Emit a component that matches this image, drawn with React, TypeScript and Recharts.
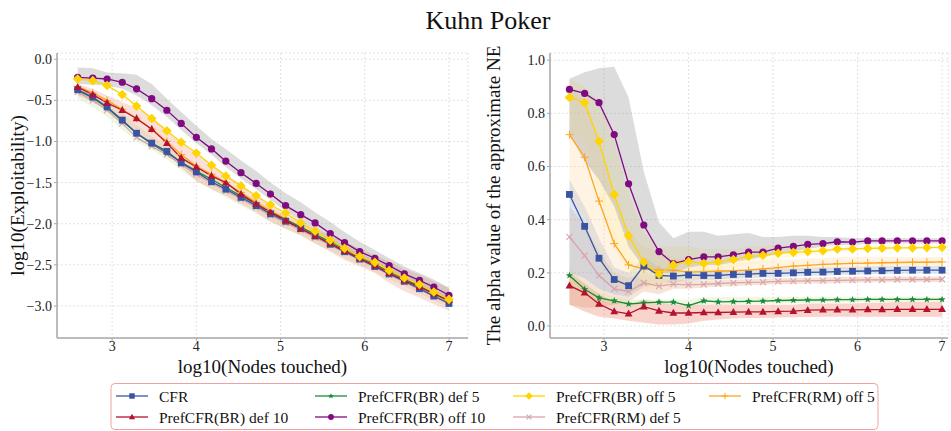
import React from 'react';
import { ComposedChart, Line, Area, XAxis, YAxis, CartesianGrid } from 'recharts';

// ---------- data ----------
const nodesLog = [2.59, 2.77, 2.94, 3.12, 3.29, 3.47, 3.65, 3.82, 4.0, 4.18, 4.35, 4.53, 4.71, 4.88, 5.06, 5.24, 5.41, 5.59, 5.76, 5.94, 6.12, 6.29, 6.47, 6.65, 6.82, 7.0];
const xTicks = [3, 4, 5, 6, 7];
const leftYTicks = [0, -0.5, -1, -1.5, -2, -2.5, -3];
const rightYTicks = [0, 0.2, 0.4, 0.6, 0.8, 1.0];

// left: log10(Exploitability)
const leftCFR = [-0.37, -0.46, -0.58, -0.74, -0.9, -1.02, -1.12, -1.26, -1.37, -1.49, -1.58, -1.68, -1.78, -1.88, -1.97, -2.06, -2.15, -2.25, -2.34, -2.43, -2.52, -2.61, -2.7, -2.79, -2.88, -2.97];
const leftDef10 = [-0.34, -0.43, -0.53, -0.62, -0.72, -0.85, -1.02, -1.2, -1.31, -1.42, -1.5, -1.64, -1.76, -1.86, -1.96, -2.06, -2.15, -2.24, -2.33, -2.42, -2.51, -2.6, -2.69, -2.77, -2.85, -2.93];
const leftDef5 = [-0.38, -0.47, -0.59, -0.75, -0.9, -1.03, -1.14, -1.25, -1.36, -1.46, -1.56, -1.66, -1.76, -1.86, -1.95, -2.04, -2.13, -2.22, -2.31, -2.4, -2.49, -2.58, -2.67, -2.76, -2.85, -2.94];
const leftOff10 = [-0.22, -0.23, -0.24, -0.28, -0.36, -0.48, -0.62, -0.78, -0.95, -1.09, -1.24, -1.38, -1.51, -1.64, -1.78, -1.89, -1.99, -2.12, -2.23, -2.34, -2.42, -2.51, -2.61, -2.69, -2.77, -2.87];
const leftOff5 = [-0.24, -0.26, -0.32, -0.43, -0.57, -0.72, -0.87, -1.01, -1.14, -1.29, -1.42, -1.54, -1.66, -1.77, -1.87, -1.99, -2.09, -2.2, -2.3, -2.4, -2.47, -2.57, -2.66, -2.74, -2.83, -2.92];
const leftRMDef5 = [-0.4, -0.5, -0.62, -0.78, -0.95, -1.06, -1.16, -1.28, -1.4, -1.5, -1.6, -1.7, -1.8, -1.9, -1.99, -2.08, -2.17, -2.26, -2.35, -2.44, -2.53, -2.62, -2.71, -2.8, -2.88, -2.96];
const leftRMOff5 = [-0.33, -0.41, -0.5, -0.61, -0.72, -0.85, -1.0, -1.16, -1.3, -1.4, -1.5, -1.62, -1.74, -1.84, -1.94, -2.04, -2.13, -2.22, -2.31, -2.4, -2.49, -2.58, -2.67, -2.76, -2.85, -2.95];

const leftGrayHi = [-0.1, -0.11, -0.16, -0.17, -0.19, -0.3, -0.48, -0.64, -0.81, -0.97, -1.09, -1.23, -1.36, -1.5, -1.63, -1.74, -1.86, -1.98, -2.1, -2.22, -2.32, -2.42, -2.52, -2.6, -2.68, -2.78];
const leftGrayLo = [-0.3, -0.31, -0.32, -0.36, -0.44, -0.56, -0.7, -0.86, -1.02, -1.16, -1.31, -1.45, -1.58, -1.71, -1.85, -1.97, -2.07, -2.2, -2.31, -2.42, -2.51, -2.61, -2.71, -2.79, -2.88, -2.98];
const leftSalmonHi = [-0.3, -0.36, -0.44, -0.52, -0.6, -0.7, -0.86, -1.02, -1.15, -1.28, -1.4, -1.53, -1.66, -1.78, -1.88, -1.97, -2.06, -2.14, -2.22, -2.3, -2.38, -2.46, -2.55, -2.62, -2.7, -2.78];
const leftSalmonLo = [-0.44, -0.52, -0.62, -0.76, -0.9, -1.02, -1.14, -1.32, -1.48, -1.58, -1.66, -1.76, -1.86, -1.98, -2.06, -2.14, -2.24, -2.34, -2.44, -2.52, -2.6, -2.72, -2.82, -2.9, -2.98, -3.06];
const leftGreenHi = [-0.34, -0.42, -0.52, -0.66, -0.8, -0.94, -1.05, -1.18, -1.3, -1.41, -1.51, -1.61, -1.71, -1.81, -1.91, -2.0, -2.09, -2.18, -2.27, -2.36, -2.45, -2.54, -2.62, -2.71, -2.8, -2.88];
const leftGreenLo = [-0.48, -0.58, -0.7, -0.86, -1.0, -1.1, -1.22, -1.35, -1.48, -1.58, -1.68, -1.78, -1.88, -1.97, -2.06, -2.15, -2.24, -2.33, -2.42, -2.5, -2.59, -2.68, -2.76, -2.85, -2.93, -3.02];

// right: alpha value of the approximate NE
const rightCFR = [0.495, 0.375, 0.255, 0.175, 0.152, 0.226, 0.19, 0.188, 0.192, 0.19, 0.19, 0.194, 0.195, 0.198, 0.198, 0.2, 0.202, 0.203, 0.205, 0.206, 0.207, 0.208, 0.209, 0.21, 0.21, 0.21];
const rightDef10 = [0.152, 0.125, 0.083, 0.055, 0.046, 0.073, 0.057, 0.049, 0.049, 0.051, 0.051, 0.052, 0.053, 0.053, 0.055, 0.056, 0.06, 0.061, 0.061, 0.061, 0.062, 0.062, 0.063, 0.063, 0.063, 0.063];
const rightDef5 = [0.19, 0.138, 0.106, 0.095, 0.083, 0.087, 0.09, 0.09, 0.077, 0.095, 0.091, 0.092, 0.093, 0.094, 0.096, 0.097, 0.098, 0.098, 0.099, 0.099, 0.1, 0.1, 0.1, 0.1, 0.1, 0.1];
const rightOff10 = [0.89, 0.875, 0.84, 0.72, 0.535, 0.38, 0.28, 0.235, 0.25, 0.26, 0.26, 0.268, 0.278, 0.278, 0.293, 0.3, 0.307, 0.31, 0.317, 0.316, 0.32, 0.32, 0.32, 0.32, 0.32, 0.32];
const rightOff5 = [0.86, 0.84, 0.695, 0.495, 0.34, 0.24, 0.195, 0.23, 0.243, 0.235, 0.242, 0.25, 0.262, 0.266, 0.274, 0.277, 0.28, 0.283, 0.29, 0.29, 0.292, 0.293, 0.294, 0.294, 0.295, 0.296];
const rightRMDef5 = [0.335, 0.265, 0.19, 0.14, 0.13, 0.162, 0.15, 0.158, 0.155, 0.157, 0.16, 0.162, 0.164, 0.165, 0.168, 0.169, 0.17, 0.171, 0.172, 0.173, 0.174, 0.174, 0.175, 0.175, 0.175, 0.176];
const rightRMOff5 = [0.72, 0.635, 0.47, 0.31, 0.23, 0.215, 0.21, 0.21, 0.203, 0.205, 0.206, 0.208, 0.21, 0.215, 0.22, 0.225, 0.228, 0.232, 0.234, 0.236, 0.237, 0.238, 0.239, 0.24, 0.24, 0.241];

const rightGrayHi = [0.93, 0.955, 0.97, 0.975, 0.86, 0.58, 0.39, 0.33, 0.355, 0.355, 0.34, 0.345, 0.35, 0.335, 0.335, 0.34, 0.34, 0.335, 0.335, 0.33, 0.33, 0.33, 0.33, 0.33, 0.33, 0.33];
const rightGrayLo = [0.72, 0.62, 0.55, 0.45, 0.3, 0.22, 0.2, 0.2, 0.22, 0.23, 0.23, 0.24, 0.25, 0.26, 0.27, 0.28, 0.29, 0.3, 0.305, 0.305, 0.31, 0.31, 0.31, 0.31, 0.31, 0.31];
const rightYellowHi = [0.93, 0.9, 0.85, 0.7, 0.5, 0.35, 0.3, 0.3, 0.3, 0.29, 0.29, 0.29, 0.3, 0.3, 0.3, 0.3, 0.3, 0.3, 0.3, 0.3, 0.3, 0.3, 0.3, 0.3, 0.3, 0.3];
const rightYellowLo = [0.72, 0.7, 0.5, 0.3, 0.2, 0.17, 0.15, 0.18, 0.2, 0.2, 0.21, 0.22, 0.23, 0.24, 0.25, 0.26, 0.265, 0.27, 0.28, 0.28, 0.285, 0.285, 0.29, 0.29, 0.29, 0.29];
const rightOrangeHi = [0.9, 0.85, 0.7, 0.5, 0.35, 0.3, 0.28, 0.26, 0.25, 0.24, 0.24, 0.24, 0.24, 0.245, 0.25, 0.25, 0.255, 0.255, 0.26, 0.26, 0.26, 0.26, 0.26, 0.26, 0.26, 0.26];
const rightOrangeLo = [0.5, 0.4, 0.25, 0.15, 0.12, 0.14, 0.15, 0.16, 0.17, 0.17, 0.175, 0.18, 0.185, 0.19, 0.2, 0.2, 0.2, 0.21, 0.21, 0.21, 0.215, 0.215, 0.22, 0.22, 0.22, 0.22];
const rightBlueHi = [0.55, 0.45, 0.33, 0.22, 0.2, 0.26, 0.22, 0.21, 0.21, 0.21, 0.21, 0.212, 0.213, 0.215, 0.216, 0.217, 0.219, 0.22, 0.222, 0.222, 0.224, 0.225, 0.226, 0.226, 0.226, 0.226];
const rightBlueLo = [0.2, 0.18, 0.14, 0.12, 0.11, 0.15, 0.16, 0.165, 0.17, 0.172, 0.174, 0.177, 0.18, 0.182, 0.184, 0.186, 0.188, 0.19, 0.192, 0.194, 0.195, 0.196, 0.197, 0.198, 0.198, 0.198];
const rightPinkHi = [0.45, 0.38, 0.28, 0.2, 0.18, 0.2, 0.18, 0.175, 0.17, 0.17, 0.172, 0.174, 0.176, 0.178, 0.18, 0.181, 0.182, 0.183, 0.184, 0.185, 0.185, 0.186, 0.186, 0.186, 0.186, 0.186];
const rightPinkLo = [0.08, 0.07, 0.07, 0.08, 0.09, 0.13, 0.12, 0.14, 0.14, 0.145, 0.148, 0.15, 0.153, 0.155, 0.157, 0.158, 0.16, 0.16, 0.162, 0.163, 0.164, 0.165, 0.165, 0.166, 0.166, 0.166];
const rightRedHi = [0.2, 0.16, 0.12, 0.09, 0.08, 0.1, 0.09, 0.08, 0.08, 0.08, 0.08, 0.08, 0.08, 0.08, 0.08, 0.08, 0.085, 0.085, 0.085, 0.085, 0.088, 0.088, 0.09, 0.09, 0.09, 0.09];
const rightRedLo = [0.08, 0.055, 0.035, 0.028, 0.02, 0.012, 0.006, 0.006, 0.01, 0.02, 0.025, 0.028, 0.03, 0.03, 0.032, 0.033, 0.034, 0.035, 0.035, 0.035, 0.035, 0.035, 0.035, 0.035, 0.035, 0.035];
const rightGreenHi = [0.22, 0.16, 0.125, 0.11, 0.1, 0.1, 0.1, 0.1, 0.1, 0.11, 0.11, 0.11, 0.11, 0.11, 0.11, 0.11, 0.11, 0.11, 0.11, 0.11, 0.11, 0.11, 0.11, 0.11, 0.11, 0.11];
const rightGreenLo = [0.16, 0.12, 0.09, 0.08, 0.07, 0.075, 0.08, 0.08, 0.065, 0.08, 0.08, 0.08, 0.082, 0.084, 0.085, 0.086, 0.087, 0.088, 0.089, 0.09, 0.09, 0.09, 0.09, 0.09, 0.09, 0.09];

const seriesNames = ['CFR', 'PrefCFR(BR) def 10', 'PrefCFR(BR) def 5', 'PrefCFR(BR) off 10', 'PrefCFR(BR) off 5', 'PrefCFR(RM) def 5', 'PrefCFR(RM) off 5'];

// ---------- styles ----------
const FONT = '"Liberation Serif", "Times New Roman", serif';
type Shape = 'square' | 'triangle' | 'star' | 'circle' | 'diamond' | 'x' | 'plus';
const STYLES: { key: string; color: string; shape: Shape }[] = [
  { key: 'cfr', color: '#3a54a4', shape: 'square' },
  { key: 'def10', color: '#b4122f', shape: 'triangle' },
  { key: 'def5', color: '#1b8a3b', shape: 'star' },
  { key: 'off10', color: '#800a80', shape: 'circle' },
  { key: 'off5', color: '#ffd400', shape: 'diamond' },
  { key: 'rmdef5', color: '#d9a3aa', shape: 'x' },
  { key: 'rmoff5', color: '#ffa51c', shape: 'plus' },
];
// drawing order (last on top)
const drawOrder = [5, 6, 2, 0, 1, 3, 4];

const leftData = nodesLog.map((x, i) => ({
  x,
  cfr: leftCFR[i], def10: leftDef10[i], def5: leftDef5[i], off10: leftOff10[i], off5: leftOff5[i], rmdef5: leftRMDef5[i], rmoff5: leftRMOff5[i],
  bGray: [leftGrayLo[i], leftGrayHi[i]],
  bSalmon: [leftSalmonLo[i], leftSalmonHi[i]],
  bGreen: [leftGreenLo[i], leftGreenHi[i]],
}));

const rightData = nodesLog.map((x, i) => ({
  x,
  cfr: rightCFR[i], def10: rightDef10[i], def5: rightDef5[i], off10: rightOff10[i], off5: rightOff5[i], rmdef5: rightRMDef5[i], rmoff5: rightRMOff5[i],
  bGray: [rightGrayLo[i], rightGrayHi[i]],
  bYellow: [rightYellowLo[i], rightYellowHi[i]],
  bOrange: [rightOrangeLo[i], rightOrangeHi[i]],
  bBlue: [rightBlueLo[i], rightBlueHi[i]],
  bPink: [rightPinkLo[i], rightPinkHi[i]],
  bRed: [rightRedLo[i], rightRedHi[i]],
  bGreen: [rightGreenLo[i], rightGreenHi[i]],
}));

function Marker({ shape, cx, cy, color, scale = 1 }: { shape: Shape; cx: number; cy: number; color: string; scale?: number }) {
  const s = scale;
  switch (shape) {
    case 'square':
      return <rect x={cx - 3.4 * s} y={cy - 3.4 * s} width={6.8 * s} height={6.8 * s} fill={color} />;
    case 'circle':
      return <circle cx={cx} cy={cy} r={3.6 * s} fill={color} />;
    case 'diamond':
      return <polygon points={`${cx},${cy - 4.8 * s} ${cx + 4.8 * s},${cy} ${cx},${cy + 4.8 * s} ${cx - 4.8 * s},${cy}`} fill={color} />;
    case 'triangle':
      return <polygon points={`${cx},${cy - 4.2 * s} ${cx + 3.9 * s},${cy + 2.8 * s} ${cx - 3.9 * s},${cy + 2.8 * s}`} fill={color} />;
    case 'star': {
      const pts: string[] = [];
      for (let k = 0; k < 10; k++) {
        const r = (k % 2 === 0 ? 3.8 : 1.6) * s;
        const a = -Math.PI / 2 + (k * Math.PI) / 5;
        pts.push(`${cx + r * Math.cos(a)},${cy + r * Math.sin(a)}`);
      }
      return <polygon points={pts.join(' ')} fill={color} />;
    }
    case 'x':
      return (
        <g stroke={color} strokeWidth={1.1}>
          <line x1={cx - 3 * s} y1={cy - 3 * s} x2={cx + 3 * s} y2={cy + 3 * s} />
          <line x1={cx - 3 * s} y1={cy + 3 * s} x2={cx + 3 * s} y2={cy - 3 * s} />
        </g>
      );
    case 'plus':
      return (
        <g stroke={color} strokeWidth={1}>
          <line x1={cx - 4 * s} y1={cy} x2={cx + 4 * s} y2={cy} />
          <line x1={cx} y1={cy - 4 * s} x2={cx} y2={cy + 4 * s} />
        </g>
      );
  }
  return null;
}

const makeDot = (shape: Shape, color: string, id: string) => (p: any) => {
  if (p == null || p.cx == null || p.cy == null || isNaN(p.cx) || isNaN(p.cy)) return <g key={`${id}-${p?.index}`} />;
  return (
    <g key={`${id}-${p.index}`}>
      <Marker shape={shape} cx={p.cx} cy={p.cy} color={color} />
    </g>
  );
};

const fmtLeft = (v: number) => (v < 0 ? '\u2212' : '') + Math.abs(v).toFixed(1);
const fmtRight = (v: number) => v.toFixed(1);

const tickStyle = { fontFamily: FONT, fontSize: 14, fill: '#222' };
const FRAME = '#a8a8a8';

const YLabel = (text: string, x: number) => (props: any) => {
  const vb = props.viewBox || { y: 53, height: 285 };
  const cy = vb.y + vb.height / 2;
  return (
    <text x={x} y={cy} transform={`rotate(-90, ${x}, ${cy})`} textAnchor="middle" dominantBaseline="central" fontFamily={FONT} fontSize={19} fill="#111">
      {text}
    </text>
  );
};

const XLabel = (text: string, y: number) => (props: any) => {
  const vb = props.viewBox || { x: 57, width: 411 };
  const cx = vb.x + vb.width / 2;
  return (
    <text x={cx} y={y} textAnchor="middle" dominantBaseline="central" fontFamily={FONT} fontSize={19} fill="#111">
      {text}
    </text>
  );
};

function Panel({ data, bands, xDomain, yDomain, yTicks, fmt, yLabel, yLabelX, width, yAxisWidth, marginRight, id }: any) {
  return (
    <ComposedChart width={width} height={380} data={data} margin={{ top: 53, right: marginRight, bottom: 2, left: 0 }}>
      <CartesianGrid stroke="#e2e2e2" strokeDasharray="2 2" />
      <XAxis
        dataKey="x"
        type="number"
        domain={xDomain}
        ticks={xTicks}
        allowDataOverflow
        height={40}
        tick={tickStyle}
        tickFormatter={(v: number) => String(v)}
        tickSize={3}
        tickMargin={0}
        axisLine={{ stroke: FRAME, strokeWidth: 1.5 }}
        tickLine={{ stroke: FRAME }}
        label={{ content: XLabel('log10(Nodes touched)', 366) }}
      />
      <XAxis xAxisId="top" orientation="top" type="number" domain={xDomain} allowDataOverflow height={0} tick={false} tickLine={false} axisLine={{ stroke: FRAME, strokeWidth: 1.5 }} />
      <YAxis
        type="number"
        domain={yDomain}
        ticks={yTicks}
        allowDataOverflow
        width={yAxisWidth}
        tick={tickStyle}
        tickFormatter={fmt}
        tickSize={3}
        tickMargin={2}
        axisLine={{ stroke: FRAME, strokeWidth: 1.5 }}
        tickLine={{ stroke: FRAME }}
        label={{ content: YLabel(yLabel, yLabelX) }}
      />
      <YAxis yAxisId="r" orientation="right" type="number" domain={yDomain} allowDataOverflow width={0} tick={false} tickLine={false} axisLine={{ stroke: FRAME, strokeWidth: 1.5 }} />
      {bands.map((b: any) => (
        <Area
          key={`${id}-${b.key}`}
          dataKey={b.key}
          type="linear"
          stroke="none"
          fill={b.color}
          fillOpacity={b.opacity}
          isAnimationActive={false}
          dot={false}
          activeDot={false}
        />
      ))}
      {drawOrder.map((k) => {
        const st = STYLES[k];
        return (
          <Line
            key={`${id}-${st.key}`}
            dataKey={st.key}
            name={seriesNames[k]}
            type="linear"
            stroke={st.color}
            strokeWidth={1.3}
            dot={makeDot(st.shape, st.color, `${id}-${st.key}`)}
            activeDot={false}
            isAnimationActive={false}
          />
        );
      })}
    </ComposedChart>
  );
}

const leftBands = [
  { key: 'bGreen', color: '#b5d67a', opacity: 0.22 },
  { key: 'bSalmon', color: '#e8705a', opacity: 0.22 },
  { key: 'bGray', color: '#8c8c8c', opacity: 0.3 },
];
const rightBands = [
  { key: 'bPink', color: '#e0a070', opacity: 0.28 },
  { key: 'bRed', color: '#e8705a', opacity: 0.3 },
  { key: 'bGreen', color: '#cfe3a0', opacity: 0.3 },
  { key: 'bBlue', color: '#8fb0d8', opacity: 0.3 },
  { key: 'bOrange', color: '#ffcf90', opacity: 0.25 },
  { key: 'bYellow', color: '#fff0b0', opacity: 0.35 },
  { key: 'bGray', color: '#8c8c8c', opacity: 0.3 },
];

// legend layout: matplotlib-like 4 columns, column-major
const legendCols = [116, 315, 513, 709];
const legendRows = [396, 417];

function Legend() {
  return (
    <g>
      <rect x={111} y={383.5} width={767} height={46} rx={4} ry={4} fill="#fff" stroke="#f2a2a2" strokeWidth={1} />
      {seriesNames.map((name, k) => {
        const st = STYLES[k];
        const col = Math.floor(k / 2);
        const row = k % 2;
        const x0 = legendCols[col];
        const y = legendRows[row];
        return (
          <g key={name}>
            <line x1={x0} y1={y} x2={x0 + 32} y2={y} stroke={st.color} strokeWidth={1.3} />
            <Marker shape={st.shape} cx={x0 + 16} cy={y} color={st.color} scale={0.8} />
            <text x={x0 + 43} y={y} dominantBaseline="central" fontFamily={FONT} fontSize={15.5} fill="#111">
              {name}
            </text>
          </g>
        );
      })}
    </g>
  );
}

export default function App() {
  return (
    <div style={{ position: 'absolute', left: 0, top: 0, width: 951, height: 431, background: '#fff', overflow: 'hidden' }}>
      <svg width={951} height={431} style={{ position: 'absolute', left: 0, top: 0 }}>
        <text x={488} y={20} textAnchor="middle" dominantBaseline="central" fontFamily={FONT} fontSize={26} fill="#111">
          Kuhn Poker
        </text>
        <Legend />
      </svg>
      <div style={{ position: 'absolute', left: 0, top: 0 }}>
        <Panel
          id="L"
          data={leftData}
          bands={leftBands}
          xDomain={[2.345, 7.226]}
          yDomain={[-3.39, 0.076]}
          yTicks={leftYTicks}
          fmt={fmtLeft}
          yLabel="log10(Exploitability)"
          yLabelX={17}
          width={480}
          yAxisWidth={57}
          marginRight={12}
        />
      </div>
      <div style={{ position: 'absolute', left: 480, top: 0 }}>
        <Panel
          id="R"
          data={rightData}
          bands={rightBands}
          xDomain={[2.36, 7.07]}
          yDomain={[-0.045, 1.027]}
          yTicks={rightYTicks}
          fmt={fmtRight}
          yLabel="The alpha value of the approximate NE"
          yLabelX={13}
          width={471}
          yAxisWidth={70}
          marginRight={3}
        />
      </div>
    </div>
  );
}
